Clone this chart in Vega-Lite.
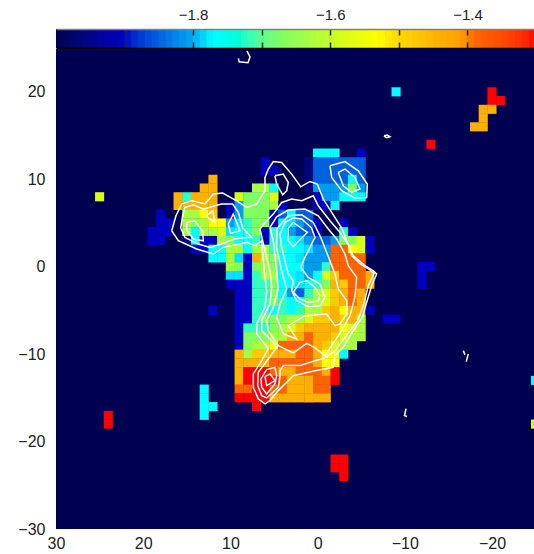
{"$schema":"https://vega.github.io/schema/vega-lite/v6.json","padding":0,"spacing":0,"background":"white","config":{"view":{"stroke":null},"font":"Liberation Sans"},
"datasets":{"bar":[{"v":-1.995},{"v":-1.985},{"v":-1.975},{"v":-1.965},{"v":-1.955},{"v":-1.945},{"v":-1.935},{"v":-1.925},{"v":-1.915},{"v":-1.905},{"v":-1.895},{"v":-1.885},{"v":-1.875},{"v":-1.865},{"v":-1.855},{"v":-1.845},{"v":-1.835},{"v":-1.825},{"v":-1.815},{"v":-1.805},{"v":-1.795},{"v":-1.785},{"v":-1.775},{"v":-1.765},{"v":-1.755},{"v":-1.745},{"v":-1.735},{"v":-1.725},{"v":-1.715},{"v":-1.705},{"v":-1.695},{"v":-1.685},{"v":-1.675},{"v":-1.665},{"v":-1.655},{"v":-1.645},{"v":-1.635},{"v":-1.625},{"v":-1.615},{"v":-1.605},{"v":-1.595},{"v":-1.585},{"v":-1.575},{"v":-1.565},{"v":-1.555},{"v":-1.545},{"v":-1.535},{"v":-1.525},{"v":-1.515},{"v":-1.505},{"v":-1.495},{"v":-1.485},{"v":-1.475},{"v":-1.465},{"v":-1.455},{"v":-1.445},{"v":-1.435},{"v":-1.425},{"v":-1.415},{"v":-1.405},{"v":-1.395},{"v":-1.385},{"v":-1.375},{"v":-1.365},{"v":-1.355},{"v":-1.345},{"v":-1.335},{"v":-1.325},{"v":-1.315},{"v":-1.305}],
"cells":[
{"c":-9,"r":20,"v":-1.77},{"c":-20,"r":20,"v":-1.3},{"c":-20,"r":19,"v":-1.3},{"c":-21,"r":19,"v":-1.3},{"c":-19,"r":18,"v":-1.44},{"c":-20,"r":18,"v":-1.44},{"c":-19,"r":17,"v":-1.44},{"c":-18,"r":16,"v":-1.44},{"c":-19,"r":16,"v":-1.44},{"c":-13,"r":14,"v":-1.3},
{"c":0,"r":13,"v":-1.77},{"c":-1,"r":13,"v":-1.77},{"c":-2,"r":13,"v":-1.77},{"c":-5,"r":13,"v":-1.9},
{"c":6,"r":12,"v":-1.9},{"c":1,"r":12,"v":-1.96},{"c":0,"r":12,"v":-1.85},{"c":-1,"r":12,"v":-1.85},{"c":-2,"r":12,"v":-1.85},{"c":-3,"r":12,"v":-1.85},{"c":-4,"r":12,"v":-1.85},{"c":-5,"r":12,"v":-1.85},
{"c":6,"r":11,"v":-1.9},{"c":5,"r":11,"v":-1.9},{"c":1,"r":11,"v":-1.96},{"c":0,"r":11,"v":-1.85},{"c":-1,"r":11,"v":-1.85},{"c":-2,"r":11,"v":-1.85},{"c":-3,"r":11,"v":-1.85},{"c":-4,"r":11,"v":-1.85},{"c":-5,"r":11,"v":-1.85},
{"c":12,"r":10,"v":-1.44},{"c":1,"r":10,"v":-1.96},{"c":0,"r":10,"v":-1.85},{"c":-1,"r":10,"v":-1.85},{"c":-2,"r":10,"v":-1.85},{"c":-3,"r":10,"v":-1.85},{"c":-4,"r":10,"v":-1.77},{"c":-5,"r":10,"v":-1.85},
{"c":13,"r":9,"v":-1.44},{"c":12,"r":9,"v":-1.44},{"c":7,"r":9,"v":-1.63},{"c":6,"r":9,"v":-1.63},{"c":5,"r":9,"v":-1.77},{"c":1,"r":9,"v":-1.96},{"c":0,"r":9,"v":-1.81},{"c":-1,"r":9,"v":-1.81},{"c":-2,"r":9,"v":-1.81},{"c":-3,"r":9,"v":-1.81},{"c":-4,"r":9,"v":-1.67},{"c":-5,"r":9,"v":-1.81},
{"c":25,"r":8,"v":-1.58},{"c":16,"r":8,"v":-1.44},{"c":15,"r":8,"v":-1.72},{"c":14,"r":8,"v":-1.44},{"c":13,"r":8,"v":-1.44},{"c":12,"r":8,"v":-1.44},{"c":9,"r":8,"v":-1.58},{"c":8,"r":8,"v":-1.67},{"c":7,"r":8,"v":-1.67},{"c":6,"r":8,"v":-1.67},{"c":5,"r":8,"v":-1.58},{"c":0,"r":8,"v":-1.9},{"c":-1,"r":8,"v":-1.81},{"c":-2,"r":8,"v":-1.81},{"c":-3,"r":8,"v":-1.77},{"c":-4,"r":8,"v":-1.77},{"c":-5,"r":8,"v":-1.77},
{"c":16,"r":7,"v":-1.44},{"c":15,"r":7,"v":-1.44},{"c":14,"r":7,"v":-1.44},{"c":13,"r":7,"v":-1.44},{"c":12,"r":7,"v":-1.44},{"c":10,"r":7,"v":-1.9},{"c":9,"r":7,"v":-1.81},{"c":8,"r":7,"v":-1.67},{"c":7,"r":7,"v":-1.67},{"c":6,"r":7,"v":-1.67},{"c":5,"r":7,"v":-1.63},{"c":4,"r":7,"v":-1.9},{"c":0,"r":7,"v":-1.9},{"c":-1,"r":7,"v":-1.9},{"c":-2,"r":7,"v":-1.77},
{"c":18,"r":6,"v":-1.9},{"c":15,"r":6,"v":-1.63},{"c":14,"r":6,"v":-1.63},{"c":13,"r":6,"v":-1.53},{"c":12,"r":6,"v":-1.48},{"c":10,"r":6,"v":-1.9},{"c":9,"r":6,"v":-1.81},{"c":8,"r":6,"v":-1.67},{"c":7,"r":6,"v":-1.67},{"c":6,"r":6,"v":-1.67},{"c":5,"r":6,"v":-1.9},{"c":4,"r":6,"v":-1.85},{"c":3,"r":6,"v":-1.77},{"c":2,"r":6,"v":-1.85},{"c":1,"r":6,"v":-1.85},
{"c":18,"r":5,"v":-1.9},{"c":17,"r":5,"v":-1.9},{"c":15,"r":5,"v":-1.63},{"c":14,"r":5,"v":-1.67},{"c":13,"r":5,"v":-1.63},{"c":12,"r":5,"v":-1.53},{"c":11,"r":5,"v":-1.53},{"c":10,"r":5,"v":-1.81},{"c":9,"r":5,"v":-1.78},{"c":8,"r":5,"v":-1.72},{"c":7,"r":5,"v":-1.67},{"c":6,"r":5,"v":-1.67},{"c":5,"r":5,"v":-1.9},{"c":4,"r":5,"v":-1.77},{"c":3,"r":5,"v":-1.78},{"c":2,"r":5,"v":-1.81},{"c":1,"r":5,"v":-1.85},{"c":0,"r":5,"v":-1.9},{"c":-3,"r":5,"v":-1.9},
{"c":19,"r":4,"v":-1.9},{"c":18,"r":4,"v":-1.9},{"c":17,"r":4,"v":-1.9},{"c":15,"r":4,"v":-1.63},{"c":14,"r":4,"v":-1.77},{"c":13,"r":4,"v":-1.63},{"c":12,"r":4,"v":-1.63},{"c":11,"r":4,"v":-1.58},{"c":10,"r":4,"v":-1.78},{"c":9,"r":4,"v":-1.77},{"c":8,"r":4,"v":-1.72},{"c":7,"r":4,"v":-1.67},{"c":6,"r":4,"v":-1.9},{"c":5,"r":4,"v":-1.72},{"c":4,"r":4,"v":-1.77},{"c":3,"r":4,"v":-1.81},{"c":2,"r":4,"v":-1.85},{"c":1,"r":4,"v":-1.85},{"c":0,"r":4,"v":-1.9},{"c":-3,"r":4,"v":-1.72},{"c":-4,"r":4,"v":-1.9},
{"c":19,"r":3,"v":-1.9},{"c":18,"r":3,"v":-1.9},{"c":15,"r":3,"v":-1.96},{"c":14,"r":3,"v":-1.77},{"c":13,"r":3,"v":-1.9},{"c":12,"r":3,"v":-1.9},{"c":11,"r":3,"v":-1.63},{"c":10,"r":3,"v":-1.67},{"c":9,"r":3,"v":-1.77},{"c":8,"r":3,"v":-1.77},{"c":7,"r":3,"v":-1.72},{"c":6,"r":3,"v":-1.9},{"c":5,"r":3,"v":-1.72},{"c":4,"r":3,"v":-1.77},{"c":3,"r":3,"v":-1.77},{"c":2,"r":3,"v":-1.78},{"c":1,"r":3,"v":-1.81},{"c":0,"r":3,"v":-1.85},{"c":-1,"r":3,"v":-1.85},{"c":-2,"r":3,"v":-1.81},{"c":-3,"r":3,"v":-1.67},{"c":-4,"r":3,"v":-1.67},{"c":-5,"r":3,"v":-1.58},{"c":-6,"r":3,"v":-1.9},
{"c":14,"r":2,"v":-1.9},{"c":13,"r":2,"v":-1.9},{"c":12,"r":2,"v":-1.77},{"c":11,"r":2,"v":-1.77},{"c":10,"r":2,"v":-1.63},{"c":9,"r":2,"v":-1.63},{"c":8,"r":2,"v":-1.77},{"c":7,"r":2,"v":-1.63},{"c":6,"r":2,"v":-1.63},{"c":5,"r":2,"v":-1.72},{"c":4,"r":2,"v":-1.72},{"c":3,"r":2,"v":-1.77},{"c":2,"r":2,"v":-1.77},{"c":1,"r":2,"v":-1.78},{"c":0,"r":2,"v":-1.81},{"c":-1,"r":2,"v":-1.81},{"c":-2,"r":2,"v":-1.38},{"c":-3,"r":2,"v":-1.38},{"c":-4,"r":2,"v":-1.53},{"c":-5,"r":2,"v":-1.58},{"c":-6,"r":2,"v":-1.9},
{"c":12,"r":1,"v":-1.77},{"c":11,"r":1,"v":-1.77},{"c":10,"r":1,"v":-1.63},{"c":9,"r":1,"v":-1.78},{"c":8,"r":1,"v":-1.9},{"c":7,"r":1,"v":-1.44},{"c":6,"r":1,"v":-1.63},{"c":5,"r":1,"v":-1.67},{"c":4,"r":1,"v":-1.77},{"c":3,"r":1,"v":-1.77},{"c":2,"r":1,"v":-1.78},{"c":1,"r":1,"v":-1.81},{"c":0,"r":1,"v":-1.81},{"c":-1,"r":1,"v":-1.81},{"c":-2,"r":1,"v":-1.38},{"c":-3,"r":1,"v":-1.38},{"c":-4,"r":1,"v":-1.38},{"c":-5,"r":1,"v":-1.38},
{"c":10,"r":0,"v":-1.63},{"c":9,"r":0,"v":-1.67},{"c":8,"r":0,"v":-1.9},{"c":7,"r":0,"v":-1.67},{"c":6,"r":0,"v":-1.63},{"c":5,"r":0,"v":-1.67},{"c":4,"r":0,"v":-1.77},{"c":3,"r":0,"v":-1.77},{"c":2,"r":0,"v":-1.77},{"c":1,"r":0,"v":-1.81},{"c":0,"r":0,"v":-1.81},{"c":-1,"r":0,"v":-1.72},{"c":-2,"r":0,"v":-1.38},{"c":-3,"r":0,"v":-1.38},{"c":-4,"r":0,"v":-1.38},{"c":-5,"r":0,"v":-1.38},{"c":-12,"r":0,"v":-1.9},{"c":-13,"r":0,"v":-1.9},
{"c":10,"r":-1,"v":-1.78},{"c":9,"r":-1,"v":-1.78},{"c":8,"r":-1,"v":-1.9},{"c":7,"r":-1,"v":-1.72},{"c":6,"r":-1,"v":-1.63},{"c":5,"r":-1,"v":-1.63},{"c":4,"r":-1,"v":-1.77},{"c":3,"r":-1,"v":-1.77},{"c":2,"r":-1,"v":-1.78},{"c":1,"r":-1,"v":-1.81},{"c":0,"r":-1,"v":-1.77},{"c":-1,"r":-1,"v":-1.58},{"c":-2,"r":-1,"v":-1.48},{"c":-3,"r":-1,"v":-1.38},{"c":-4,"r":-1,"v":-1.38},{"c":-5,"r":-1,"v":-1.38},{"c":-6,"r":-1,"v":-1.44},{"c":-12,"r":-1,"v":-1.9},
{"c":10,"r":-2,"v":-1.9},{"c":9,"r":-2,"v":-1.9},{"c":8,"r":-2,"v":-1.9},{"c":7,"r":-2,"v":-1.72},{"c":6,"r":-2,"v":-1.72},{"c":5,"r":-2,"v":-1.67},{"c":4,"r":-2,"v":-1.77},{"c":3,"r":-2,"v":-1.77},{"c":2,"r":-2,"v":-1.78},{"c":1,"r":-2,"v":-1.77},{"c":0,"r":-2,"v":-1.72},{"c":-1,"r":-2,"v":-1.67},{"c":-2,"r":-2,"v":-1.44},{"c":-3,"r":-2,"v":-1.48},{"c":-4,"r":-2,"v":-1.38},{"c":-5,"r":-2,"v":-1.38},{"c":-6,"r":-2,"v":-1.44},{"c":-12,"r":-2,"v":-1.9},
{"c":9,"r":-3,"v":-1.9},{"c":8,"r":-3,"v":-1.9},{"c":7,"r":-3,"v":-1.72},{"c":6,"r":-3,"v":-1.72},{"c":5,"r":-3,"v":-1.67},{"c":4,"r":-3,"v":-1.77},{"c":3,"r":-3,"v":-1.81},{"c":2,"r":-3,"v":-1.85},{"c":1,"r":-3,"v":-1.72},{"c":0,"r":-3,"v":-1.63},{"c":-1,"r":-3,"v":-1.58},{"c":-2,"r":-3,"v":-1.48},{"c":-3,"r":-3,"v":-1.44},{"c":-4,"r":-3,"v":-1.38},{"c":-5,"r":-3,"v":-1.44},
{"c":9,"r":-4,"v":-1.9},{"c":8,"r":-4,"v":-1.9},{"c":7,"r":-4,"v":-1.72},{"c":6,"r":-4,"v":-1.72},{"c":5,"r":-4,"v":-1.67},{"c":4,"r":-4,"v":-1.72},{"c":3,"r":-4,"v":-1.77},{"c":2,"r":-4,"v":-1.77},{"c":1,"r":-4,"v":-1.67},{"c":0,"r":-4,"v":-1.63},{"c":-1,"r":-4,"v":-1.58},{"c":-2,"r":-4,"v":-1.48},{"c":-3,"r":-4,"v":-1.44},{"c":-4,"r":-4,"v":-1.38},{"c":-5,"r":-4,"v":-1.44},
{"c":12,"r":-5,"v":-1.9},{"c":9,"r":-5,"v":-1.9},{"c":8,"r":-5,"v":-1.9},{"c":7,"r":-5,"v":-1.72},{"c":6,"r":-5,"v":-1.72},{"c":5,"r":-5,"v":-1.77},{"c":4,"r":-5,"v":-1.72},{"c":3,"r":-5,"v":-1.77},{"c":2,"r":-5,"v":-1.72},{"c":1,"r":-5,"v":-1.63},{"c":0,"r":-5,"v":-1.63},{"c":-1,"r":-5,"v":-1.48},{"c":-2,"r":-5,"v":-1.44},{"c":-3,"r":-5,"v":-1.53},{"c":-4,"r":-5,"v":-1.44},{"c":-5,"r":-5,"v":-1.44},{"c":-6,"r":-5,"v":-1.9},
{"c":9,"r":-6,"v":-1.9},{"c":8,"r":-6,"v":-1.9},{"c":7,"r":-6,"v":-1.72},{"c":6,"r":-6,"v":-1.67},{"c":5,"r":-6,"v":-1.67},{"c":4,"r":-6,"v":-1.67},{"c":3,"r":-6,"v":-1.63},{"c":2,"r":-6,"v":-1.63},{"c":1,"r":-6,"v":-1.58},{"c":0,"r":-6,"v":-1.48},{"c":-1,"r":-6,"v":-1.48},{"c":-2,"r":-6,"v":-1.44},{"c":-3,"r":-6,"v":-1.48},{"c":-4,"r":-6,"v":-1.44},{"c":-5,"r":-6,"v":-1.63},{"c":-8,"r":-6,"v":-1.9},{"c":-9,"r":-6,"v":-1.9},
{"c":9,"r":-7,"v":-1.9},{"c":8,"r":-7,"v":-1.72},{"c":7,"r":-7,"v":-1.72},{"c":6,"r":-7,"v":-1.72},{"c":5,"r":-7,"v":-1.67},{"c":4,"r":-7,"v":-1.63},{"c":3,"r":-7,"v":-1.58},{"c":2,"r":-7,"v":-1.48},{"c":1,"r":-7,"v":-1.44},{"c":0,"r":-7,"v":-1.44},{"c":-1,"r":-7,"v":-1.44},{"c":-2,"r":-7,"v":-1.44},{"c":-3,"r":-7,"v":-1.53},{"c":-4,"r":-7,"v":-1.58},{"c":-5,"r":-7,"v":-1.63},
{"c":9,"r":-8,"v":-1.9},{"c":8,"r":-8,"v":-1.67},{"c":7,"r":-8,"v":-1.67},{"c":6,"r":-8,"v":-1.67},{"c":5,"r":-8,"v":-1.63},{"c":4,"r":-8,"v":-1.63},{"c":3,"r":-8,"v":-1.44},{"c":2,"r":-8,"v":-1.44},{"c":1,"r":-8,"v":-1.38},{"c":0,"r":-8,"v":-1.44},{"c":-1,"r":-8,"v":-1.44},{"c":-2,"r":-8,"v":-1.48},{"c":-3,"r":-8,"v":-1.58},{"c":-4,"r":-8,"v":-1.63},{"c":-5,"r":-8,"v":-1.63},
{"c":9,"r":-9,"v":-1.9},{"c":8,"r":-9,"v":-1.67},{"c":7,"r":-9,"v":-1.63},{"c":6,"r":-9,"v":-1.63},{"c":5,"r":-9,"v":-1.53},{"c":4,"r":-9,"v":-1.38},{"c":3,"r":-9,"v":-1.38},{"c":2,"r":-9,"v":-1.38},{"c":1,"r":-9,"v":-1.38},{"c":0,"r":-9,"v":-1.44},{"c":-1,"r":-9,"v":-1.48},{"c":-2,"r":-9,"v":-1.58},{"c":-3,"r":-9,"v":-1.63},{"c":-4,"r":-9,"v":-1.63},
{"c":9,"r":-10,"v":-1.44},{"c":8,"r":-10,"v":-1.63},{"c":7,"r":-10,"v":-1.48},{"c":6,"r":-10,"v":-1.48},{"c":5,"r":-10,"v":-1.44},{"c":4,"r":-10,"v":-1.44},{"c":3,"r":-10,"v":-1.44},{"c":2,"r":-10,"v":-1.38},{"c":1,"r":-10,"v":-1.38},{"c":0,"r":-10,"v":-1.44},{"c":-1,"r":-10,"v":-1.53},{"c":-2,"r":-10,"v":-1.53},{"c":-3,"r":-10,"v":-1.77},
{"c":9,"r":-11,"v":-1.44},{"c":8,"r":-11,"v":-1.44},{"c":7,"r":-11,"v":-1.44},{"c":6,"r":-11,"v":-1.44},{"c":5,"r":-11,"v":-1.38},{"c":4,"r":-11,"v":-1.38},{"c":3,"r":-11,"v":-1.38},{"c":2,"r":-11,"v":-1.38},{"c":1,"r":-11,"v":-1.38},{"c":0,"r":-11,"v":-1.44},{"c":-1,"r":-11,"v":-1.53},{"c":-2,"r":-11,"v":-1.53},
{"c":9,"r":-12,"v":-1.44},{"c":8,"r":-12,"v":-1.3},{"c":7,"r":-12,"v":-1.3},{"c":6,"r":-12,"v":-1.3},{"c":5,"r":-12,"v":-1.38},{"c":4,"r":-12,"v":-1.44},{"c":3,"r":-12,"v":-1.44},{"c":2,"r":-12,"v":-1.38},{"c":1,"r":-12,"v":-1.38},{"c":0,"r":-12,"v":-1.38},{"c":-1,"r":-12,"v":-1.44},{"c":-2,"r":-12,"v":-1.3},
{"c":9,"r":-13,"v":-1.44},{"c":8,"r":-13,"v":-1.3},{"c":7,"r":-13,"v":-1.3},{"c":6,"r":-13,"v":-1.3},{"c":5,"r":-13,"v":-1.3},{"c":4,"r":-13,"v":-1.38},{"c":3,"r":-13,"v":-1.44},{"c":2,"r":-13,"v":-1.44},{"c":1,"r":-13,"v":-1.44},{"c":0,"r":-13,"v":-1.38},{"c":-1,"r":-13,"v":-1.38},{"c":-2,"r":-13,"v":-1.3},{"c":-25,"r":-13,"v":-1.77},
{"c":13,"r":-14,"v":-1.77},{"c":9,"r":-14,"v":-1.38},{"c":8,"r":-14,"v":-1.38},{"c":7,"r":-14,"v":-1.3},{"c":6,"r":-14,"v":-1.3},{"c":5,"r":-14,"v":-1.38},{"c":4,"r":-14,"v":-1.38},{"c":3,"r":-14,"v":-1.44},{"c":2,"r":-14,"v":-1.44},{"c":1,"r":-14,"v":-1.44},{"c":0,"r":-14,"v":-1.38},{"c":-1,"r":-14,"v":-1.38},
{"c":13,"r":-15,"v":-1.77},{"c":9,"r":-15,"v":-1.3},{"c":8,"r":-15,"v":-1.3},{"c":7,"r":-15,"v":-1.3},{"c":6,"r":-15,"v":-1.3},{"c":5,"r":-15,"v":-1.44},{"c":4,"r":-15,"v":-1.44},{"c":3,"r":-15,"v":-1.44},{"c":2,"r":-15,"v":-1.44},{"c":1,"r":-15,"v":-1.44},{"c":0,"r":-15,"v":-1.44},{"c":-1,"r":-15,"v":-1.44},
{"c":13,"r":-16,"v":-1.77},{"c":12,"r":-16,"v":-1.77},{"c":7,"r":-16,"v":-1.3},{"c":24,"r":-17,"v":-1.3},{"c":13,"r":-17,"v":-1.77},{"c":24,"r":-18,"v":-1.3},{"c":-25,"r":-18,"v":-1.58},
{"c":-2,"r":-22,"v":-1.3},{"c":-3,"r":-22,"v":-1.3},{"c":-2,"r":-23,"v":-1.3},{"c":-3,"r":-23,"v":-1.3},{"c":-3,"r":-24,"v":-1.3}],
"lines":[
{"k":"O","i":0,"x":16.73,"y":4.11},{"k":"O","i":1,"x":16.24,"y":5.83},{"k":"O","i":2,"x":15.58,"y":7.17},{"k":"O","i":3,"x":14.44,"y":7.54},{"k":"O","i":4,"x":12.91,"y":7.17},{"k":"O","i":5,"x":11.96,"y":8.31},{"k":"O","i":6,"x":10.88,"y":8.42},{"k":"O","i":7,"x":9.28,"y":7.54},{"k":"O","i":8,"x":8.13,"y":6.78},{"k":"O","i":9,"x":6.98,"y":7.17},{"k":"O","i":10,"x":6.03,"y":8.69},{"k":"O","i":11,"x":6.03,"y":10.21},{"k":"O","i":12,"x":5.65,"y":11.17},{"k":"O","i":13,"x":5.08,"y":12.03},{"k":"O","i":14,"x":4.12,"y":11.92},{"k":"O","i":15,"x":2.97,"y":10.59},{"k":"O","i":16,"x":1.94,"y":9.14},{"k":"O","i":17,"x":0.87,"y":9.75},{"k":"O","i":18,"x":0.03,"y":9.45},{"k":"O","i":19,"x":-0.65,"y":7.74},{"k":"O","i":20,"x":-1.62,"y":6.21},{"k":"O","i":21,"x":-2.76,"y":4.42},{"k":"O","i":22,"x":-3.52,"y":2.59},{"k":"O","i":23,"x":-4.09,"y":1.26},{"k":"O","i":24,"x":-5.44,"y":0.11},{"k":"O","i":25,"x":-6.39,"y":-0.46},{"k":"O","i":26,"x":-6.78,"y":-0.83},{"k":"O","i":27,"x":-6.2,"y":-2.17},{"k":"O","i":28,"x":-5.63,"y":-4.08},{"k":"O","i":29,"x":-5.13,"y":-5.79},{"k":"O","i":30,"x":-4.09,"y":-7.31},{"k":"O","i":31,"x":-2.95,"y":-9.22},{"k":"O","i":32,"x":-2.0,"y":-10.17},{"k":"O","i":33,"x":-1.8,"y":-11.51},{"k":"O","i":34,"x":0.3,"y":-11.89},{"k":"O","i":35,"x":2.79,"y":-12.46},{"k":"O","i":36,"x":3.54,"y":-13.22},{"k":"O","i":37,"x":4.51,"y":-14.17},{"k":"O","i":38,"x":5.46,"y":-15.31},{"k":"O","i":39,"x":6.03,"y":-15.69},{"k":"O","i":40,"x":6.8,"y":-15.12},{"k":"O","i":41,"x":7.37,"y":-13.79},{"k":"O","i":42,"x":7.37,"y":-12.26},{"k":"O","i":43,"x":6.41,"y":-10.74},{"k":"O","i":44,"x":5.65,"y":-9.37},{"k":"O","i":45,"x":6.98,"y":-7.69},{"k":"O","i":46,"x":6.98,"y":-6.55},{"k":"O","i":47,"x":6.03,"y":-4.65},{"k":"O","i":48,"x":5.84,"y":-2.74},{"k":"O","i":49,"x":6.11,"y":-0.46},{"k":"O","i":50,"x":6.41,"y":2.97},{"k":"O","i":51,"x":7.18,"y":2.4},{"k":"O","i":52,"x":8.13,"y":2.78},{"k":"O","i":53,"x":10.81,"y":2.21},{"k":"O","i":54,"x":11.96,"y":1.45},{"k":"O","i":55,"x":13.86,"y":2.02},{"k":"O","i":56,"x":15.97,"y":2.97},{"k":"O","i":57,"x":16.73,"y":4.11},
{"k":"L1","i":0,"x":15.7,"y":4.42},{"k":"L1","i":1,"x":15.47,"y":5.83},{"k":"L1","i":2,"x":15.21,"y":6.78},{"k":"L1","i":3,"x":14.25,"y":7.09},{"k":"L1","i":4,"x":13.03,"y":6.59},{"k":"L1","i":5,"x":11.77,"y":6.97},{"k":"L1","i":6,"x":11.0,"y":7.17},{"k":"L1","i":7,"x":9.74,"y":7.17},{"k":"L1","i":8,"x":9.09,"y":6.21},{"k":"L1","i":9,"x":8.59,"y":4.42},{"k":"L1","i":10,"x":7.56,"y":3.35},{"k":"L1","i":11,"x":8.13,"y":3.35},{"k":"L1","i":12,"x":9.67,"y":3.17},{"k":"L1","i":13,"x":11.0,"y":2.59},{"k":"L1","i":14,"x":12.34,"y":2.21},{"k":"L1","i":15,"x":13.68,"y":2.59},{"k":"L1","i":16,"x":15.21,"y":3.35},{"k":"L1","i":17,"x":15.7,"y":4.42},
{"k":"L2","i":0,"x":15.01,"y":5.06},{"k":"L2","i":1,"x":14.06,"y":5.26},{"k":"L2","i":2,"x":13.18,"y":4.03},{"k":"L2","i":3,"x":13.11,"y":2.97},{"k":"L2","i":4,"x":14.25,"y":3.17},{"k":"L2","i":5,"x":15.01,"y":4.19},{"k":"L2","i":6,"x":15.01,"y":5.06},
{"k":"L3","i":0,"x":12.72,"y":5.83},{"k":"L3","i":1,"x":12.03,"y":6.4},{"k":"L3","i":2,"x":11.77,"y":5.06},{"k":"L3","i":3,"x":12.53,"y":5.57},{"k":"L3","i":4,"x":12.72,"y":5.83},
{"k":"L4","i":0,"x":10.24,"y":4.88},{"k":"L4","i":1,"x":9.67,"y":6.02},{"k":"L4","i":2,"x":8.9,"y":4.11},{"k":"L4","i":3,"x":9.97,"y":3.81},{"k":"L4","i":4,"x":10.24,"y":4.88},
{"k":"S1","i":0,"x":4.89,"y":10.4},{"k":"S1","i":1,"x":3.93,"y":10.59},{"k":"S1","i":2,"x":3.36,"y":9.63},{"k":"S1","i":3,"x":3.54,"y":8.69},{"k":"S1","i":4,"x":4.0,"y":8.23},{"k":"S1","i":5,"x":4.69,"y":9.45},{"k":"S1","i":6,"x":4.89,"y":10.4},
{"k":"R1","i":0,"x":-1.42,"y":11.54},{"k":"R1","i":1,"x":-3.14,"y":12.03},{"k":"R1","i":2,"x":-4.67,"y":10.97},{"k":"R1","i":3,"x":-5.7,"y":9.45},{"k":"R1","i":4,"x":-5.63,"y":7.92},{"k":"R1","i":5,"x":-4.29,"y":7.85},{"k":"R1","i":6,"x":-2.76,"y":8.69},{"k":"R1","i":7,"x":-1.62,"y":10.21},{"k":"R1","i":8,"x":-1.42,"y":11.54},
{"k":"R2","i":0,"x":-2.37,"y":10.78},{"k":"R2","i":1,"x":-3.14,"y":11.17},{"k":"R2","i":2,"x":-4.29,"y":10.21},{"k":"R2","i":3,"x":-4.86,"y":8.88},{"k":"R2","i":4,"x":-3.91,"y":8.49},{"k":"R2","i":5,"x":-2.95,"y":9.26},{"k":"R2","i":6,"x":-2.37,"y":10.78},
{"k":"B","i":0,"x":5.46,"y":-0.46},{"k":"B","i":1,"x":6.03,"y":1.83},{"k":"B","i":2,"x":6.61,"y":4.31},{"k":"B","i":3,"x":5.84,"y":5.26},{"k":"B","i":4,"x":5.08,"y":6.02},{"k":"B","i":5,"x":4.12,"y":7.35},{"k":"B","i":6,"x":2.97,"y":7.74},{"k":"B","i":7,"x":1.82,"y":7.54},{"k":"B","i":8,"x":0.49,"y":8.11},{"k":"B","i":9,"x":-0.08,"y":6.97},{"k":"B","i":10,"x":-1.42,"y":5.26},{"k":"B","i":11,"x":-2.57,"y":3.92},{"k":"B","i":12,"x":-3.72,"y":2.21},{"k":"B","i":13,"x":-3.91,"y":1.26},{"k":"B","i":14,"x":-4.86,"y":0.34},{"k":"B","i":15,"x":-6.12,"y":-0.46},{"k":"B","i":16,"x":-6.47,"y":-0.8},{"k":"B","i":17,"x":-5.81,"y":-2.17},{"k":"B","i":18,"x":-5.36,"y":-4.08},{"k":"B","i":19,"x":-4.6,"y":-6.17},{"k":"B","i":20,"x":-3.14,"y":-8.08},{"k":"B","i":21,"x":-2.0,"y":-9.6},{"k":"B","i":22,"x":-0.85,"y":-10.43},{"k":"B","i":23,"x":0.49,"y":-10.82},{"k":"B","i":24,"x":2.02,"y":-11.31},{"k":"B","i":25,"x":3.93,"y":-11.31},{"k":"B","i":26,"x":4.31,"y":-11.89},{"k":"B","i":27,"x":4.31,"y":-12.57},{"k":"B","i":28,"x":4.51,"y":-13.79},{"k":"B","i":29,"x":5.84,"y":-15.01},{"k":"B","i":30,"x":6.41,"y":-14.74},{"k":"B","i":31,"x":6.87,"y":-13.6},{"k":"B","i":32,"x":6.8,"y":-12.08},{"k":"B","i":33,"x":5.65,"y":-10.55},{"k":"B","i":34,"x":4.69,"y":-9.22},{"k":"B","i":35,"x":5.26,"y":-8.46},{"k":"B","i":36,"x":6.41,"y":-7.31},{"k":"B","i":37,"x":6.41,"y":-6.17},{"k":"B","i":38,"x":5.46,"y":-4.26},{"k":"B","i":39,"x":5.26,"y":-2.37},{"k":"B","i":40,"x":5.46,"y":-0.46},
{"k":"C","i":0,"x":5.46,"y":4.49},{"k":"C","i":1,"x":4.69,"y":5.71},{"k":"C","i":2,"x":3.36,"y":6.48},{"k":"C","i":3,"x":1.45,"y":6.59},{"k":"C","i":4,"x":-0.08,"y":5.83},{"k":"C","i":5,"x":-1.23,"y":4.31},{"k":"C","i":6,"x":-2.19,"y":3.17},{"k":"C","i":7,"x":-3.14,"y":1.45},{"k":"C","i":8,"x":-3.52,"y":0.11},{"k":"C","i":9,"x":-4.48,"y":-1.22},{"k":"C","i":10,"x":-4.29,"y":-3.43},{"k":"C","i":11,"x":-3.72,"y":-5.6},{"k":"C","i":12,"x":-2.91,"y":-7.09},{"k":"C","i":13,"x":-2.0,"y":-8.46},{"k":"C","i":14,"x":-0.85,"y":-10.17},{"k":"C","i":15,"x":0.3,"y":-9.29},{"k":"C","i":16,"x":1.25,"y":-8.77},{"k":"C","i":17,"x":2.79,"y":-9.86},{"k":"C","i":18,"x":4.51,"y":-9.03},{"k":"C","i":19,"x":5.65,"y":-7.31},{"k":"C","i":20,"x":5.84,"y":-6.17},{"k":"C","i":21,"x":5.08,"y":-4.65},{"k":"C","i":22,"x":4.51,"y":-2.55},{"k":"C","i":23,"x":4.69,"y":-0.46},{"k":"C","i":24,"x":5.08,"y":2.97},{"k":"C","i":25,"x":5.46,"y":4.49},
{"k":"D","i":0,"x":4.66,"y":4.34},{"k":"D","i":1,"x":3.36,"y":5.83},{"k":"D","i":2,"x":1.82,"y":5.94},{"k":"D","i":3,"x":0.49,"y":5.06},{"k":"D","i":4,"x":-0.36,"y":3.35},{"k":"D","i":5,"x":-1.19,"y":1.26},{"k":"D","i":6,"x":-2.0,"y":-0.83},{"k":"D","i":7,"x":-2.37,"y":-2.55},{"k":"D","i":8,"x":-3.34,"y":-3.89},{"k":"D","i":9,"x":-3.34,"y":-5.41},{"k":"D","i":10,"x":-2.57,"y":-6.55},{"k":"D","i":11,"x":-2.0,"y":-6.74},{"k":"D","i":12,"x":-1.04,"y":-5.41},{"k":"D","i":13,"x":1.45,"y":-5.6},{"k":"D","i":14,"x":3.36,"y":-6.74},{"k":"D","i":15,"x":2.4,"y":-8.26},{"k":"D","i":16,"x":3.93,"y":-7.69},{"k":"D","i":17,"x":4.69,"y":-5.79},{"k":"D","i":18,"x":4.31,"y":-4.26},{"k":"D","i":19,"x":3.54,"y":-2.55},{"k":"D","i":20,"x":4.12,"y":-0.46},{"k":"D","i":21,"x":4.71,"y":2.21},{"k":"D","i":22,"x":4.66,"y":4.34},
{"k":"E","i":0,"x":3.74,"y":5.06},{"k":"E","i":1,"x":2.79,"y":5.57},{"k":"E","i":2,"x":1.82,"y":5.45},{"k":"E","i":3,"x":0.68,"y":4.42},{"k":"E","i":4,"x":0.3,"y":3.35},{"k":"E","i":5,"x":0.87,"y":2.21},{"k":"E","i":6,"x":1.45,"y":1.06},{"k":"E","i":7,"x":1.94,"y":-0.08},{"k":"E","i":8,"x":1.07,"y":-1.22},{"k":"E","i":9,"x":-0.28,"y":-1.98},{"k":"E","i":10,"x":-0.85,"y":-3.51},{"k":"E","i":11,"x":-0.28,"y":-4.46},{"k":"E","i":12,"x":1.07,"y":-4.57},{"k":"E","i":13,"x":2.4,"y":-3.89},{"k":"E","i":14,"x":2.97,"y":-2.74},{"k":"E","i":15,"x":2.79,"y":-1.6},{"k":"E","i":16,"x":3.36,"y":-0.83},{"k":"E","i":17,"x":3.74,"y":0.69},{"k":"E","i":18,"x":4.12,"y":2.21},{"k":"E","i":19,"x":4.31,"y":3.74},{"k":"E","i":20,"x":3.74,"y":5.06},
{"k":"F","i":0,"x":3.36,"y":4.42},{"k":"F","i":1,"x":2.79,"y":5.06},{"k":"F","i":2,"x":1.18,"y":3.92},{"k":"F","i":3,"x":2.79,"y":2.29},{"k":"F","i":4,"x":3.36,"y":2.97},{"k":"F","i":5,"x":3.36,"y":4.42},
{"k":"G","i":0,"x":2.02,"y":-1.79},{"k":"G","i":1,"x":1.25,"y":-1.6},{"k":"G","i":2,"x":0.3,"y":-2.37},{"k":"G","i":3,"x":-0.28,"y":-3.31},{"k":"G","i":4,"x":-0.08,"y":-3.89},{"k":"G","i":5,"x":1.07,"y":-4.08},{"k":"G","i":6,"x":2.02,"y":-3.69},{"k":"G","i":7,"x":2.79,"y":-2.94},{"k":"G","i":8,"x":2.02,"y":-1.79},
{"k":"H","i":0,"x":0.95,"y":-3.0},{"k":"H","i":1,"x":0.8,"y":-3.1},
{"k":"I","i":0,"x":6.49,"y":-12.83},{"k":"I","i":1,"x":5.84,"y":-11.77},{"k":"I","i":2,"x":4.89,"y":-11.51},{"k":"I","i":3,"x":4.69,"y":-12.46},{"k":"I","i":4,"x":4.89,"y":-13.41},{"k":"I","i":5,"x":5.84,"y":-14.55},{"k":"I","i":6,"x":6.41,"y":-13.79},{"k":"I","i":7,"x":6.49,"y":-12.83},
{"k":"J","i":0,"x":6.03,"y":-12.57},{"k":"J","i":1,"x":5.46,"y":-12.26},{"k":"J","i":2,"x":4.89,"y":-13.03},{"k":"J","i":3,"x":5.84,"y":-13.6},{"k":"J","i":4,"x":6.03,"y":-12.57},
{"k":"T1","i":0,"x":9.08,"y":23.83},{"k":"T1","i":1,"x":9.01,"y":23.43},{"k":"T1","i":2,"x":7.98,"y":23.32},{"k":"T1","i":3,"x":7.75,"y":24.0},{"k":"T1","i":4,"x":8.1,"y":24.69},
{"k":"T2","i":0,"x":-7.62,"y":14.97},{"k":"T2","i":1,"x":-8.0,"y":15.05},{"k":"T2","i":2,"x":-8.3,"y":14.86},{"k":"T2","i":3,"x":-7.9,"y":14.75},{"k":"T2","i":4,"x":-7.62,"y":14.97},
{"k":"T3","i":0,"x":-16.71,"y":-9.6},{"k":"T3","i":1,"x":-16.9,"y":-10.06},
{"k":"T4","i":0,"x":-17.28,"y":-9.98},{"k":"T4","i":1,"x":-17.05,"y":-10.86},
{"k":"T5","i":0,"x":-10.14,"y":-16.23},{"k":"T5","i":1,"x":-9.97,"y":-17.03},{"k":"T5","i":2,"x":-10.25,"y":-17.14}
]},
"vconcat":[
{"width":478,"height":19,"data":{"name":"bar"},"layer":[
{"mark":{"type":"rect","width":7.4,"clip":true},
"encoding":{"x":{"field":"v","type":"quantitative","scale":{"domain":[-2.0,-1.303],"nice":false,"zero":false},
"axis":{"orient":"top","values":[-1.9,-1.8,-1.7,-1.6,-1.5,-1.4],"title":null,"grid":false,"domainColor":"#808080","domainWidth":1.5,"tickColor":"#222222","tickWidth":1.5,"tickSize":-6,"labelFontSize":15,"labelColor":"#222222","labelPadding":13,"labelFlush":false,"labelExpr":"abs(round(datum.value*10))%2==0?format(datum.value,'.1f'):''","minExtent":29,"maxExtent":29,"zindex":1}},
"y":{"datum":0,"type":"quantitative","scale":{"domain":[0,1]},"axis":null},"y2":{"datum":1},
"color":{"field":"v","type":"quantitative","legend":null,"scale":{"domain":[-2.0,-1.9,-1.85,-1.8,-1.77,-1.72,-1.7,-1.67,-1.63,-1.58,-1.53,-1.5,-1.44,-1.41,-1.39,-1.3],"range":["#000050","#0000c0","#0060e0","#00a8f0","#00ffff","#30ffc0","#60ff90","#80ff60","#a8ff40","#d8ff18","#ffff00","#ffd800","#ffb000","#ffa000","#ff6800","#ff0000"]}}}},
{"mark":{"type":"rect","width":7.4,"clip":true},
"encoding":{"x":{"field":"v","type":"quantitative",
"axis":{"orient":"bottom","values":[-1.9,-1.8,-1.7,-1.6,-1.5,-1.4],"title":null,"grid":false,"labels":false,"domainColor":"#000000","domainWidth":1.5,"tickColor":"#222222","tickWidth":1.5,"tickSize":-6,"minExtent":0,"maxExtent":0,"zindex":1}},
"y":{"datum":0,"type":"quantitative","axis":null},"y2":{"datum":1},
"color":{"field":"v","type":"quantitative","legend":null}}}
]},
{"width":478,"height":480,"view":{"fill":"#000050"},
"layer":[
{"data":{"name":"cells"},"mark":{"type":"rect","width":9.1,"height":9.1,"clip":true},
"encoding":{"x":{"field":"c","type":"quantitative","scale":{"domain":[30,-24.82],"nice":false,"zero":false},
"axis":{"values":[30,20,10,0,-10,-20],"title":null,"grid":false,"domain":false,"ticks":false,"labelFontSize":16,"labelColor":"#222222","labelPadding":6,"labelFlush":false,"minExtent":26,"maxExtent":26}},
"y":{"field":"r","type":"quantitative","scale":{"domain":[-30,24.9],"nice":false,"zero":false},
"axis":{"values":[-30,-20,-10,0,10,20],"title":null,"grid":false,"domain":false,"ticks":false,"labelFontSize":16,"labelColor":"#222222","labelPadding":11,"labelFlush":false,"minExtent":56,"maxExtent":56}},
"color":{"field":"v","type":"quantitative","legend":null,"scale":{"domain":[-2.0,-1.9,-1.85,-1.8,-1.77,-1.72,-1.7,-1.67,-1.63,-1.58,-1.53,-1.5,-1.44,-1.41,-1.39,-1.3],"range":["#000050","#0000c0","#0060e0","#00a8f0","#00ffff","#30ffc0","#60ff90","#80ff60","#a8ff40","#d8ff18","#ffff00","#ffd800","#ffb000","#ffa000","#ff6800","#ff0000"]}}}},
{"data":{"name":"lines"},"mark":{"type":"line","color":"white","strokeWidth":1.5,"clip":true},
"encoding":{"x":{"field":"x","type":"quantitative"},"y":{"field":"y","type":"quantitative"},"detail":{"field":"k"},"order":{"field":"i"}}}
]}
]}
